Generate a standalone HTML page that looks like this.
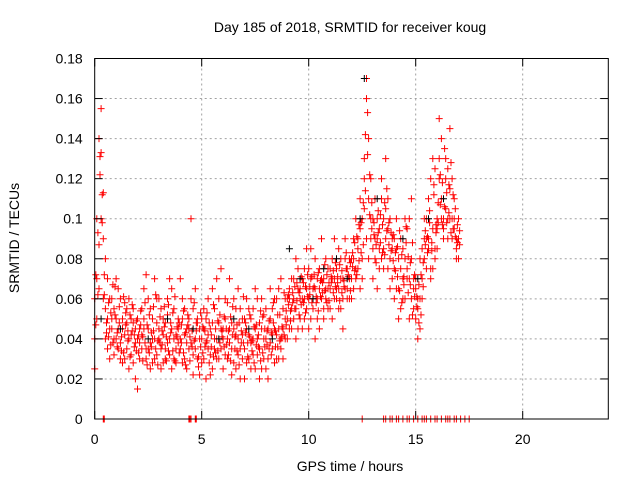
<!DOCTYPE html>
<html><head><meta charset="utf-8"><style>
body{margin:0;background:#fff;font-family:"Liberation Sans",sans-serif}
svg text{font-family:"Liberation Sans",sans-serif;font-size:14px;fill:#000}
</style></head><body>
<svg id="chart" width="640" height="480" viewBox="0 0 640 480">
<rect x="0" y="0" width="640" height="480" fill="#fff"/>
<g id="grid"></g><g id="pts"></g><g id="axes"></g>
<text x="350" y="32" text-anchor="middle">Day 185 of 2018, SRMTID for receiver koug</text>
<text x="350" y="471" text-anchor="middle">GPS time / hours</text>
<text transform="translate(19,238) rotate(-90)" text-anchor="middle">SRMTID / TECUs</text>
</svg>
<script>
const xTicks=[0,5,10,15,20];
const yTicks=[0,0.02,0.04,0.06,0.08,0.1,0.12,0.14,0.16,0.18];
const yTickLabels=["0","0.02","0.04","0.06","0.08","0.1","0.12","0.14","0.16","0.18"];
const startHour=0, stepHour=0.1, offsetHour=0.05;
const seriesA=[.06,.10,.14,.155,.113,.08,.05,.045,.06,.04,.05,.035,.06,.045,.03,.055,.04,.05,.028,.045,.04,.03,.055,.045,.035,.06,.025,.05,.04,.032,.045,.035,.05,.03,.06,.04,.025,.055,.035,.045,.04,.05,.03,.045,.035,.1,.055,.04,.03,.045,.04,.03,.05,.035,.045,.025,.055,.04,.06,.035,.04,.05,.03,.045,.035,.06,.025,.04,.055,.03,.035,.045,.03,.05,.04,.025,.06,.035,.045,.03,.04,.03,.05,.035,.045,.06,.03,.04,.055,.05,.05,.06,.045,.07,.055,.065,.05,.06,.075,.055,.06,.07,.055,.065,.05,.075,.06,.07,.065,.055,.065,.07,.06,.075,.065,.055,.07,.08,.065,.06,.07,.08,.075,.09,.065,.1,.12,.16,.14,.1,.1,.08,.09,.075,.11,.085,.13,.095,.1,.085,.09,.065,.05,.075,.06,.08,.07,.1,.06,.055,.05,.04,.06,.07,.08,.09,.085,.075,.095,.08,.1,.12,.11,.09,.13,.1,.145,.12,.095,.085,.1];
const seriesB=[.04,.07,.087,.133,.09,.055,.035,.06,.05,.032,.04,.065,.03,.05,.042,.035,.06,.032,.048,.038,.05,.038,.042,.065,.03,.045,.038,.028,.07,.048,.04,.055,.028,.048,.038,.07,.045,.03,.042,.05,.035,.06,.042,.025,.05,.038,.032,.065,.048,.022,.028,.045,.038,.06,.022,.048,.035,.07,.03,.045,.045,.032,.058,.038,.048,.028,.042,.065,.035,.05,.05,.028,.042,.038,.055,.045,.032,.048,.025,.04,.025,.045,.038,.055,.028,.042,.065,.035,.045,.06,.04,.065,.055,.05,.08,.045,.06,.07,.05,.065,.075,.05,.065,.08,.06,.045,.07,.055,.08,.065,.055,.08,.07,.06,.085,.07,.06,.065,.075,.08,.06,.09,.07,.085,.095,.08,.13,.17,.11,.09,.07,.09,.1,.085,.12,.075,.09,.11,.08,.07,.075,.1,.065,.09,.085,.06,.095,.07,.08,.065,.065,.055,.045,.085,.09,.1,.11,.07,.075,.125,.095,.15,.14,.1,.105,.125,.1,.09,.11,.08,.08];
const seriesC=[.025,.05,.065,.1,.06,.04,.07,.03,.045,.055,.07,.045,.038,.028,.058,.048,.025,.042,.055,.02,.015,.045,.035,.05,.072,.035,.055,.04,.03,.06,.06,.025,.042,.035,.052,.032,.065,.04,.028,.038,.07,.028,.055,.038,.045,.06,.022,.035,.05,.04,.05,.055,.02,.042,.032,.065,.04,.03,.048,.075,.025,.06,.04,.07,.022,.045,.055,.032,.02,.042,.02,.06,.055,.025,.032,.065,.04,.02,.06,.052,.055,.02,.065,.042,.06,.03,.045,.07,.03,.04,.06,.045,.07,.06,.04,.075,.065,.045,.06,.085,.045,.085,.06,.04,.07,.065,.09,.05,.06,.075,.075,.05,.09,.065,.055,.08,.045,.09,.06,.07,.08,.065,.1,.075,.11,.07,.105,.09,.08,.12,.085,.11,.065,.095,.08,.1,.105,.075,.065,.09,.06,.085,.08,.055,.07,.1,.075,.05,.11,.07,.07,.06,.08,.06,.1,.075,.09,.12,.13,.085,.085,.13,.1,.095,.12,.09,.115,.1,.1,.09,.09];
const seriesD=[.072,.093,.131,.112,.062,.048,.058,.037,.067,.052,.043,.056,.034,.061,.047,.039,.052,.044,.036,.049,.033,.047,.041,.058,.027,.052,.036,.044,.062,.039,.051,.037,.046,.029,.057,.043,.034,.061,.041,.048,.038,.054,.027,.047,.041,.036,.058,.044,.031,.053,.046,.036,.053,.028,.042,.057,.033,.049,.038,.044,.051,.037,.044,.029,.056,.041,.034,.048,.038,.061,.043,.031,.052,.039,.028,.047,.036,.054,.033,.045,.037,.049,.032,.058,.044,.036,.052,.041,.063,.047,.057,.049,.063,.055,.068,.052,.071,.058,.066,.061,.066,.058,.072,.061,.054,.069,.063,.077,.058,.068,.071,.063,.078,.068,.059,.074,.066,.083,.071,.064,.076,.088,.072,.097,.083,.108,.142,.153,.122,.095,.092,.078,.104,.088,.097,.082,.115,.087,.093,.079,.083,.071,.094,.058,.067,.088,.063,.078,.052,.072,.061,.048,.072,.066,.094,.083,.104,.088,.112,.097,.108,.122,.097,.135,.113,.103,.128,.095,.105,.088,.094];
const seriesE=[.047,.062,.122,.098,.072,.043,.041,.053,.038,.066,.036,.048,.041,.033,.053,.044,.031,.057,.042,.034,.042,.054,.029,.038,.047,.033,.043,.056,.035,.027,.038,.044,.056,.041,.034,.048,.053,.029,.046,.033,.047,.033,.043,.052,.029,.044,.039,.048,.026,.036,.033,.044,.039,.048,.036,.031,.045,.034,.052,.041,.036,.045,.032,.051,.042,.035,.047,.027,.044,.038,.048,.038,.041,.034,.046,.037,.042,.029,.051,.036,.044,.035,.043,.048,.036,.052,.039,.046,.042,.054,.062,.054,.058,.066,.059,.063,.057,.068,.053,.072,.062,.071,.066,.058,.073,.061,.068,.064,.072,.059,.068,.074,.066,.071,.077,.063,.069,.075,.072,.078,.083,.074,.091,.079,.098,.087,.114,.132,.102,.108,.098,.087,.093,.102,.083,.108,.094,.098,.084,.092,.074,.086,.064,.082,.071,.096,.081,.067,.088,.061,.056,.067,.052,.078,.087,.091,.098,.084,.117,.093,.098,.107,.118,.106,.098,.117,.093,.112,.091,.097,.087];
const zeroHours=[0.4,0.45,4.4,4.45,4.5,4.7,4.75,12.5,13.5,13.6,13.8,13.9,14.1,14.2,14.4,14.6,14.7,14.9,15.1,15.3,15.4,15.5,15.7,15.9,16.0,16.2,16.4,16.5,16.6,16.8,16.9,17.1,17.3,17.5];
const blackHours=[0.3,1.2,2.5,3.4,4.6,5.8,6.5,7.2,8.3,9.1,9.6,10.2,10.7,11.3,11.8,12.4,12.6,13.2,14.4,15.1,15.6,16.3];
const blackVals=[.05,.045,.04,.05,.045,.04,.05,.045,.04,.085,.07,.06,.075,.08,.07,.1,.17,.11,.09,.07,.1,.11];
const L=94.7,R=608.3,T=58.5,B=419;
const X=h=>L+(h/24)*(R-L);
const Y=v=>B-(v/0.18)*(B-T);
const NS="http://www.w3.org/2000/svg";
const grid=document.getElementById('grid'),pts=document.getElementById('pts'),axes=document.getElementById('axes');
function mk(tag,attrs,parent){const e=document.createElementNS(NS,tag);for(const k in attrs)e.setAttribute(k,attrs[k]);parent.appendChild(e);return e;}
xTicks.forEach(t=>{const x=X(t);
 if(t>0){const g=mk('line',{x1:x,y1:T,x2:x,y2:B,stroke:'#a0a0a0','stroke-dasharray':'2,3'},grid);
 
 }
 mk('line',{x1:x,y1:B,x2:x,y2:B-8,stroke:'#000'},axes);mk('line',{x1:x,y1:T,x2:x,y2:T+8,stroke:'#000'},axes);
 const tx=mk('text',{x:x,y:B+25,'text-anchor':'middle'},axes);tx.textContent=t;
 
 });
yTicks.forEach((v,i)=>{const y=Y(v);
 if(i>0&&i<yTicks.length-1){const g=mk('line',{x1:L,y1:y,x2:R,y2:y,stroke:'#a0a0a0','stroke-dasharray':'2,3'},grid);
 
 }
 mk('line',{x1:L,y1:y,x2:L+8,y2:y,stroke:'#000'},axes);mk('line',{x1:R,y1:y,x2:R-8,y2:y,stroke:'#000'},axes);
 const tx=mk('text',{x:L-12,y:y+5,'text-anchor':'end'},axes);tx.textContent=yTickLabels[i];
 
 });
const frame=mk('rect',{x:L,y:T,width:R-L,height:B-T,fill:'none',stroke:'#000'},axes);


let d='';
function cross(h,v){const x=X(h),y=Y(v);return `M${(x-3.5).toFixed(1)} ${y.toFixed(1)}h7M${x.toFixed(1)} ${(y-3.5).toFixed(1)}v7`;}
[seriesA,seriesB,seriesC].forEach(s=>s.forEach((v,i)=>{d+=cross(startHour+i*stepHour,v);}));
[seriesD,seriesE].forEach(s=>s.forEach((v,i)=>{d+=cross(startHour+offsetHour+i*stepHour,v);}));
zeroHours.forEach(h=>{d+=cross(h,0);});
const red=mk('path',{d:d,stroke:'#ff0000','stroke-width':1,fill:'none'},pts);


let db='';blackHours.forEach((h,i)=>{db+=cross(h,blackVals[i]);});
const blk=mk('path',{d:db,stroke:'#000','stroke-width':1,fill:'none'},pts);


</script>
</body></html>
